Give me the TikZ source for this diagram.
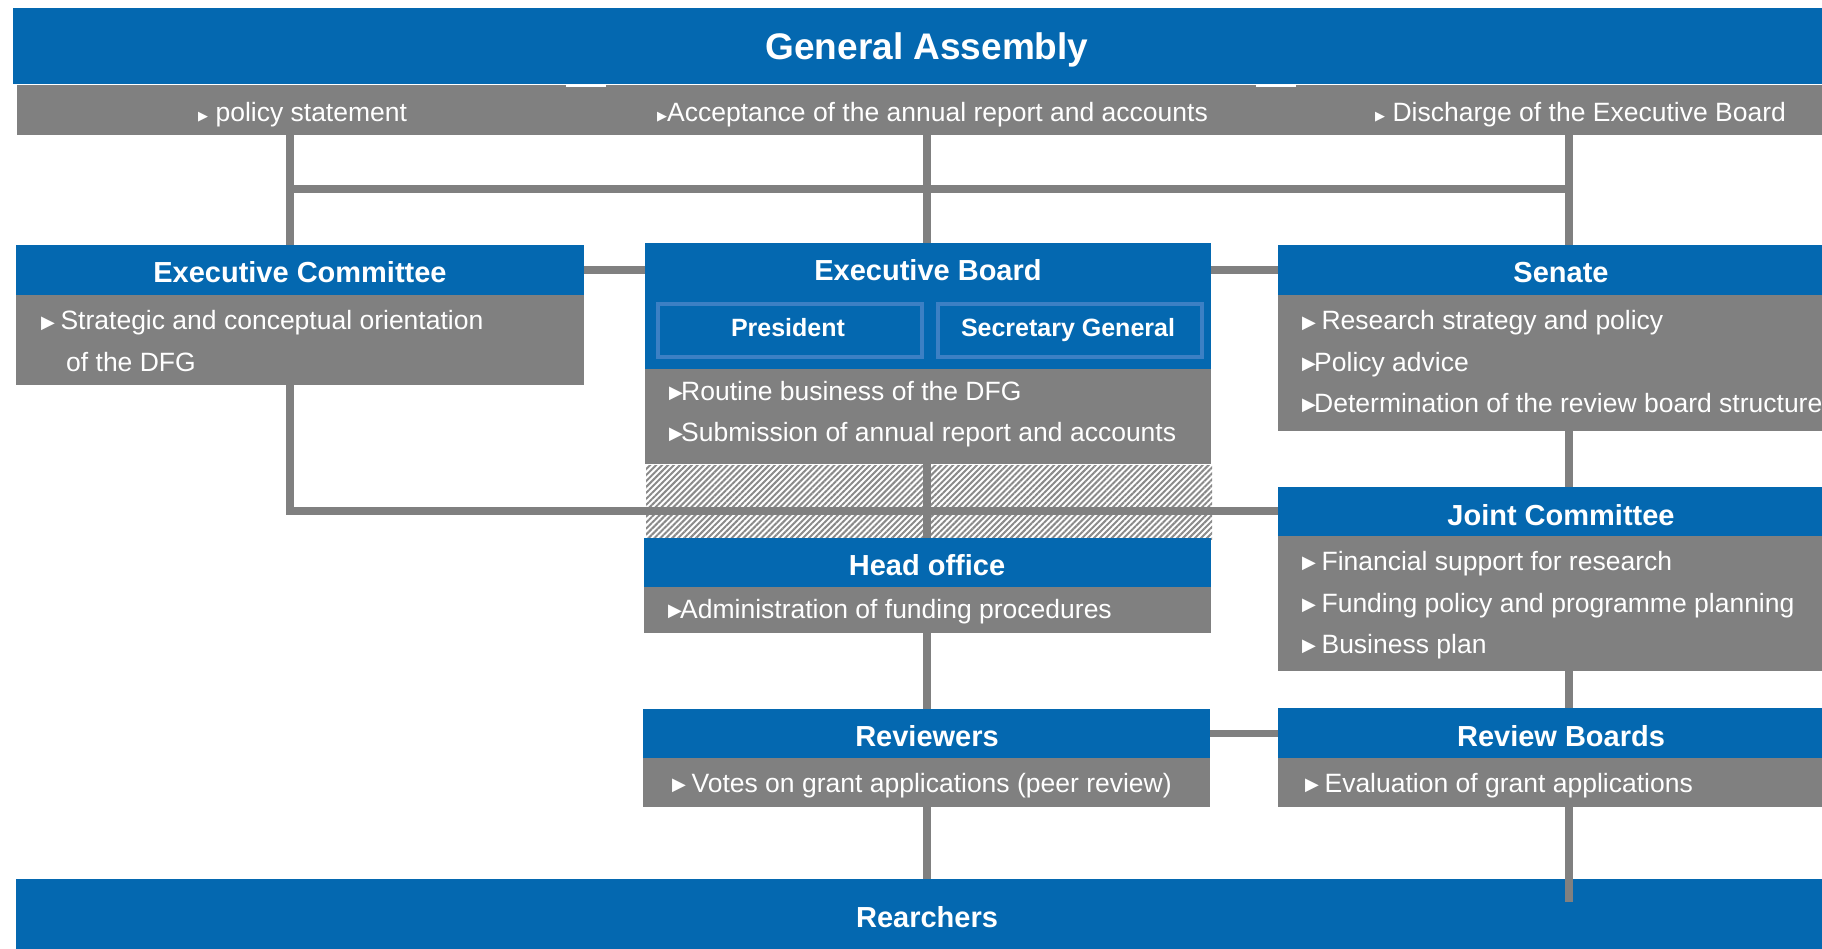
\documentclass[tikz,border=0pt]{standalone}
\usepackage{fontspec}
\setmainfont{Liberation Sans}
\newfontfamily\symfont{DejaVu Sans}
\usetikzlibrary{patterns.meta}
\definecolor{dfgblue}{HTML}{0468B0}
\definecolor{dfggray}{HTML}{808080}
\definecolor{dfglight}{HTML}{3C80C4}
\definecolor{hatchgray}{HTML}{8A8A8A}
\newcommand\bul{\makebox[12pt][l]{\raisebox{1.5pt}{\symfont\fontsize{18}{18}\selectfont ▶}}}
\newcommand\sbul{\makebox[10pt][l]{\raisebox{1pt}{\symfont\fontsize{13}{13}\selectfont ▶}}}
\tikzset{
  bluebox/.style={fill=dfgblue, draw=none, inner sep=0pt, anchor=north west},
  graybox/.style={fill=dfggray, draw=none, inner sep=0pt, anchor=north west},
  subbox/.style={fill=dfgblue, draw=dfglight, line width=4pt, inner sep=0pt, anchor=north west},
  ttl/.style={text=white, font=\bfseries\fontsize{29}{29}\selectfont, inner sep=0pt, anchor=base},
  subttl/.style={text=white, font=\bfseries\fontsize{25}{25}\selectfont, inner sep=0pt, anchor=base},
  itm/.style={text=white, font=\fontsize{26.5}{26.5}\selectfont, inner sep=0pt, anchor=base west},
  conn/.style={draw=dfggray, line width=7.5pt},
}
\begin{document}
\begin{tikzpicture}[x=1pt,y=-1pt]
\useasboundingbox[fill=white] (0,0) rectangle (1822,949);

% General Assembly
\node[bluebox, minimum width=1809pt, minimum height=76pt] (ga) at (13,8) {};
\node[ttl, font=\bfseries\fontsize{37}{37}\selectfont] (gat) at (927,60) {General Assembly};
\node[graybox, minimum width=1805pt, minimum height=50pt] (gbar) at (17,85) {};
\node[fill=white, inner sep=0pt, minimum width=40pt, minimum height=2pt, anchor=north west] (n1) at (566,85) {};
\node[fill=white, inner sep=0pt, minimum width=40pt, minimum height=2pt, anchor=north west] (n2) at (1256,85) {};
\node[itm] (g1) at (198,122) {\sbul\ policy statement};
\node[itm] (g2) at (657,122) {\sbul Acceptance of the annual report and accounts};
\node[itm] (g3) at (1375,122) {\sbul\ Discharge of the Executive Board};

% Executive Committee
\node[bluebox, minimum width=568pt, minimum height=50pt] (ech) at (16,245) {};
\node[graybox, minimum width=568pt, minimum height=90pt] (ecb) at (16,295) {};
\node[ttl] (ect) at (300,283) {Executive Committee};
\node[itm] (ec1) at (41,330) {\bul\ Strategic and conceptual orientation};
\node[itm] (ec2) at (66,371) {of the DFG};

% Executive Board
\node[bluebox, minimum width=566pt, minimum height=126pt] (ebh) at (645,243) {};
\node[graybox, minimum width=566pt, minimum height=95pt] (ebb) at (645,369) {};
\node[ttl] (ebt) at (928,281) {Executive Board};
\node[subbox, minimum width=264pt, minimum height=53pt] (pres) at (656,302) {};
\node[subbox, minimum width=264pt, minimum height=53pt] (secg) at (936,302) {};
\node[subttl] (prest) at (788,337) {President};
\node[subttl] (secgt) at (1068,337) {Secretary General};
\node[itm] (eb1) at (669,400) {\bul Routine business of the DFG};
\node[itm] (eb2) at (669,441) {\bul Submission of annual report and accounts};

% hatched band
\node[anchor=north west, inner sep=0pt, minimum width=566pt, minimum height=74pt,
      pattern={Lines[angle=45,distance=4.2pt,line width=2pt]}, pattern color=hatchgray] (hatch) at (645,464) {};

% Head office
\node[bluebox, minimum width=567pt, minimum height=49pt] (hoh) at (644,538) {};
\node[graybox, minimum width=567pt, minimum height=46pt] (hob) at (644,587) {};
\node[ttl] (hot) at (927,575) {Head office};
\node[itm] (ho1) at (668,618) {\bul Administration of funding procedures};

% Senate
\node[bluebox, minimum width=544pt, minimum height=50pt] (senh) at (1278,245) {};
\node[graybox, minimum width=544pt, minimum height=136pt] (senb) at (1278,295) {};
\node[ttl] (sent) at (1561,283) {Senate};
\node[itm] (se1) at (1302,330) {\bul\ Research strategy and policy};
\node[itm] (se2) at (1302,371) {\bul Policy advice};
\node[itm] (se3) at (1302,412) {\bul Determination of the review board structure};

% Joint Committee
\node[bluebox, minimum width=544pt, minimum height=49pt] (jch) at (1278,487) {};
\node[graybox, minimum width=544pt, minimum height=135pt] (jcb) at (1278,536) {};
\node[ttl] (jct) at (1561,525) {Joint Committee};
\node[itm] (jc1) at (1302,570) {\bul\ Financial support for research};
\node[itm] (jc2) at (1302,612) {\bul\ Funding policy and programme planning};
\node[itm] (jc3) at (1302,653) {\bul\ Business plan};

% Reviewers
\node[bluebox, minimum width=567pt, minimum height=49pt] (rvh) at (643,709) {};
\node[graybox, minimum width=567pt, minimum height=49pt] (rvb) at (643,758) {};
\node[ttl] (rvt) at (927,746) {Reviewers};
\node[itm] (rv1) at (672,792) {\bul\ Votes on grant applications (peer review)};

% Review Boards
\node[bluebox, minimum width=544pt, minimum height=50pt] (rbh) at (1278,708) {};
\node[graybox, minimum width=544pt, minimum height=49pt] (rbb) at (1278,758) {};
\node[ttl] (rbt) at (1561,746) {Review Boards};
\node[itm] (rb1) at (1305,792) {\bul\ Evaluation of grant applications};

% Researchers
\node[bluebox, minimum width=1806pt, minimum height=70pt] (res) at (16,879) {};
\node[ttl] (rest) at (927,927) {Rearchers};

% connectors
\coordinate (cL) at (290,189);
\coordinate (cM) at (927,189);
\coordinate (cR) at (1569,189);
\coordinate (cJ) at (290,511);
\coordinate (rbEnd) at (1569,902);
\draw[conn] (cL |- gbar.south) -- (cL |- ech.north);
\draw[conn] (cM |- gbar.south) -- (cM |- ebh.north);
\draw[conn] (cR |- gbar.south) -- (cR |- senh.north);
\draw[conn] (cL) -- (cR);
\draw[conn] (ech.east) -- (ech.east -| ebh.west);
\draw[conn] (senh.west) -- (senh.west -| ebh.east);
\draw[conn] (cL |- ecb.south) -- (cJ) -- (cJ -| jch.west);
\draw[conn] (cM |- ebb.south) -- (cM |- hoh.north);
\draw[conn] (cR |- senb.south) -- (cR |- jch.north);
\draw[conn] (cM |- hob.south) -- (cM |- rvh.north);
\draw[conn] (rvh.east) -- (rvh.east -| rbh.west);
\draw[conn] (cR |- jcb.south) -- (cR |- rbh.north);
\draw[conn] (cM |- rvb.south) -- (cM |- res.north);
\draw[conn] (cR |- rbb.south) -- (rbEnd);
\end{tikzpicture}
\end{document}
